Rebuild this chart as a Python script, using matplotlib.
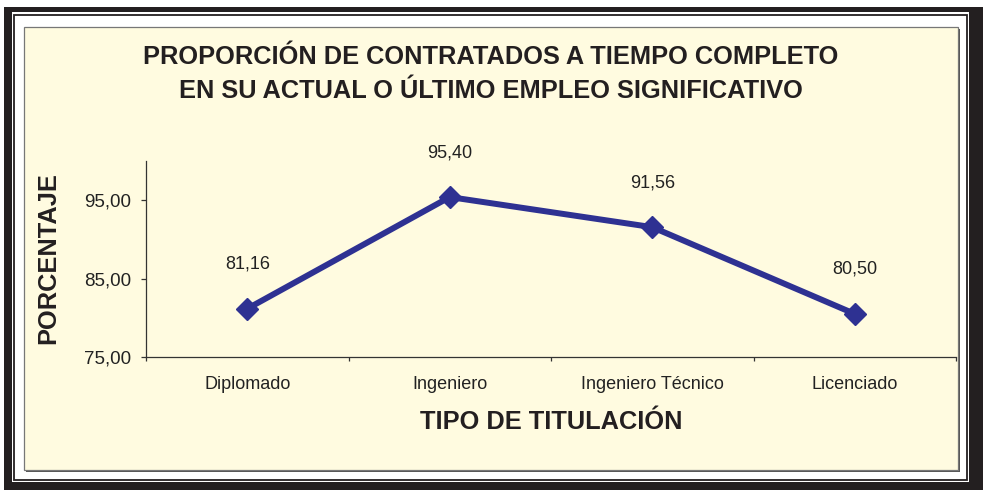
import matplotlib.pyplot as plt
from matplotlib.patches import Rectangle
from matplotlib.ticker import FixedLocator, MultipleLocator

W, H = 983, 490

categorias = ['Diplomado', 'Ingeniero', 'Ingeniero Técnico', 'Licenciado']
porcentaje = [81.16, 95.40, 91.56, 80.50]
y_ticks = [75, 85, 95]

titulo = 'PROPORCIÓN DE CONTRATADOS A TIEMPO COMPLETO\nEN SU ACTUAL O ÚLTIMO EMPLEO SIGNIFICATIVO'
x_titulo = 'TIPO DE TITULACIÓN'
y_titulo = 'PORCENTAJE'

azul = '#2E3192'
fondo = '#FFFBE0'
plt.rcParams['font.family'] = ['Liberation Sans', 'DejaVu Sans']


def caja(fig, x0, y0, x1, y1, **kw):
    # rectangle given in pixels, origin at top-left
    r = Rectangle((x0 / W, 1 - y1 / H), (x1 - x0) / W, (y1 - y0) / H,
                  transform=fig.transFigure, **kw)
    fig.add_artist(r)
    return r


fig = plt.figure(figsize=(W / 100, H / 100), dpi=100, facecolor='white')

# marco negro exterior
caja(fig, 4, 7, 983, 490, facecolor='#231F20', edgecolor='none', zorder=-10)
caja(fig, 12, 12, 969, 482, facecolor='white', edgecolor='none', zorder=-9)
caja(fig, 14, 15.5, 967, 480, facecolor='none', edgecolor='#231F20', lw=1.3, zorder=-8)
# panel amarillo con sombra
caja(fig, 26, 29, 960, 472, facecolor='#555555', edgecolor='none', zorder=-7)
caja(fig, 24, 27, 958, 470, facecolor=fondo, edgecolor='#777777', lw=0.9, zorder=-6)

ax = fig.add_axes([146 / W, 1 - 357 / H, (956 - 146) / W, (357 - 161) / H])
ax.set_facecolor('none')

x = [i + 0.5 for i in range(len(categorias))]
ax.plot(x, porcentaje, color=azul, lw=4.3, marker='D', markersize=11.5,
        markeredgecolor=azul, clip_on=False, zorder=3)

for xi, v in zip(x, porcentaje):
    ax.annotate(f'{v:.2f}'.replace('.', ','), (xi, v), xytext=(0, 32),
                textcoords='offset points', ha='center', va='center',
                fontsize=13, color='#222222')

ax.set_xlim(0, len(categorias))
ax.set_ylim(75, 100)

ax.set_yticks(y_ticks)
ax.set_yticklabels([f'{t:.2f}'.replace('.', ',') for t in y_ticks])
ax.tick_params(axis='y', direction='out', length=3.6, width=0.9, color='#333333',
               pad=7, labelsize=13.5, labelcolor='#222222')

ax.xaxis.set_major_locator(FixedLocator(x))
ax.set_xticklabels(categorias)
ax.xaxis.set_minor_locator(MultipleLocator(1))
ax.tick_params(axis='x', which='major', length=0, pad=14, labelsize=13, labelcolor='#222222')
ax.tick_params(axis='x', which='minor', direction='out', length=3, width=0.9, color='#333333')

for s in ['top', 'right']:
    ax.spines[s].set_visible(False)
for s in ['left', 'bottom']:
    ax.spines[s].set_color('#333333')
    ax.spines[s].set_linewidth(0.9)

fig.text(0.499, 1 - 74 / H, titulo, ha='center', va='center', fontsize=18.3,
         fontweight='bold', color='#231F20', linespacing=1.55)
fig.text(48 / W, 1 - 258 / H, y_titulo, ha='center', va='center', rotation=90,
         fontsize=18.3, fontweight='bold', color='#231F20')
fig.text(551 / W, 1 - 422 / H, x_titulo, ha='center', va='center',
         fontsize=18.3, fontweight='bold', color='#231F20')

fig.savefig('out.png', dpi=100, facecolor='white')
